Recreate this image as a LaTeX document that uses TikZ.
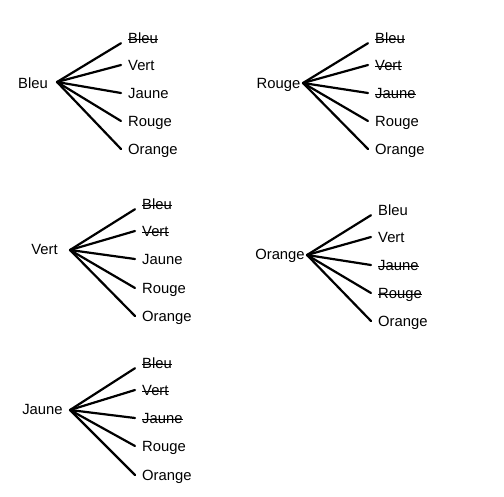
\documentclass[tikz,border=0pt]{standalone}
\usepackage{fontspec}
\setmainfont{Liberation Sans}
\newcommand{\rature}[1]{\setbox0\hbox{#1}\rlap{\rule[3.5pt]{\wd0}{0.7pt}}\box0}
\begin{document}
\begin{tikzpicture}[x=1pt,y=-1pt,font=\fontsize{14.8}{16}\selectfont,
root/.style={inner sep=0pt,text height=10pt,text depth=0pt},
leaf/.style={anchor=west,inner xsep=7pt,inner ysep=0pt,text height=10pt,text depth=0pt},
branch/.style={line width=2.2pt,line cap=round}]
  \useasboundingbox (0,0) rectangle (504,496);
  % arbre Bleu
  \node[root] (bleu) at (33,83) {Bleu};
  \coordinate (bleu-j) at (57,82);
  \node[leaf] (bleu-1) at (121,38) {\rature{Bleu}};
  \node[leaf] (bleu-2) at (121,65) {Vert};
  \node[leaf] (bleu-3) at (121,93) {Jaune};
  \node[leaf] (bleu-4) at (121,121) {Rouge};
  \node[leaf] (bleu-5) at (121,149) {Orange};
  \draw[branch] (bleu-j) -- (bleu-1.south west);
  \draw[branch] (bleu-j) -- (bleu-2.west);
  \draw[branch] (bleu-j) -- (bleu-3.west);
  \draw[branch] (bleu-j) -- (bleu-4.west);
  \draw[branch] (bleu-j) -- (bleu-5.west);
  % arbre Rouge
  \node[root] (rouge) at (278.5,83) {Rouge};
  \coordinate (rouge-j) at (303,83);
  \node[leaf] (rouge-1) at (368,38) {\rature{Bleu}};
  \node[leaf] (rouge-2) at (368,65) {\rature{Vert}};
  \node[leaf] (rouge-3) at (368,93) {\rature{Jaune}};
  \node[leaf] (rouge-4) at (368,121) {Rouge};
  \node[leaf] (rouge-5) at (368,149) {Orange};
  \draw[branch] (rouge-j) -- (rouge-1.south west);
  \draw[branch] (rouge-j) -- (rouge-2.west);
  \draw[branch] (rouge-j) -- (rouge-3.west);
  \draw[branch] (rouge-j) -- (rouge-4.west);
  \draw[branch] (rouge-j) -- (rouge-5.west);
  % arbre Vert
  \node[root] (vert) at (44.5,249) {Vert};
  \coordinate (vert-j) at (70,250);
  \node[leaf] (vert-1) at (135,204) {\rature{Bleu}};
  \node[leaf] (vert-2) at (135,231) {\rature{Vert}};
  \node[leaf] (vert-3) at (135,259) {Jaune};
  \node[leaf] (vert-4) at (135,288) {Rouge};
  \node[leaf] (vert-5) at (135,316) {Orange};
  \draw[branch] (vert-j) -- (vert-1.south west);
  \draw[branch] (vert-j) -- (vert-2.west);
  \draw[branch] (vert-j) -- (vert-3.west);
  \draw[branch] (vert-j) -- (vert-4.west);
  \draw[branch] (vert-j) -- (vert-5.west);
  % arbre Orange
  \node[root] (orange) at (280,254) {Orange};
  \coordinate (orange-j) at (307,255);
  \node[leaf] (orange-1) at (371,210) {Bleu};
  \node[leaf] (orange-2) at (371,237) {Vert};
  \node[leaf] (orange-3) at (371,265) {\rature{Jaune}};
  \node[leaf] (orange-4) at (371,293) {\rature{Rouge}};
  \node[leaf] (orange-5) at (371,321) {Orange};
  \draw[branch] (orange-j) -- (orange-1.south west);
  \draw[branch] (orange-j) -- (orange-2.west);
  \draw[branch] (orange-j) -- (orange-3.west);
  \draw[branch] (orange-j) -- (orange-4.west);
  \draw[branch] (orange-j) -- (orange-5.west);
  % arbre Jaune
  \node[root] (jaune) at (42.5,409) {Jaune};
  \coordinate (jaune-j) at (70,410);
  \node[leaf] (jaune-1) at (135,363) {\rature{Bleu}};
  \node[leaf] (jaune-2) at (135,390) {\rature{Vert}};
  \node[leaf] (jaune-3) at (135,418) {\rature{Jaune}};
  \node[leaf] (jaune-4) at (135,446) {Rouge};
  \node[leaf] (jaune-5) at (135,475) {Orange};
  \draw[branch] (jaune-j) -- (jaune-1.south west);
  \draw[branch] (jaune-j) -- (jaune-2.west);
  \draw[branch] (jaune-j) -- (jaune-3.west);
  \draw[branch] (jaune-j) -- (jaune-4.west);
  \draw[branch] (jaune-j) -- (jaune-5.west);
\end{tikzpicture}
\end{document}
